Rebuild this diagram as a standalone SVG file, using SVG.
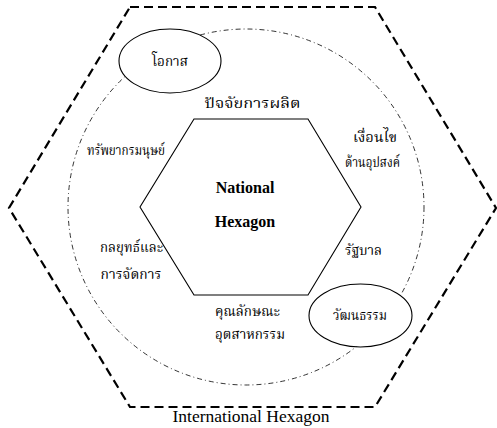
<svg xmlns="http://www.w3.org/2000/svg" width="497" height="428" viewBox="0 0 497 428">
  <style>
    .outer { fill: none; stroke: #000; stroke-width: 2.2; stroke-dasharray: 9 5; }
    .ring { fill: none; stroke: #000; stroke-width: 0.8; stroke-dasharray: 5 3 1 3; }
    .hex { fill: none; stroke: #000; stroke-width: 1.1; }
    .oval { fill: #fff; stroke: #000; stroke-width: 1.1; }
    .th { font-family: "Liberation Serif", "DejaVu Serif", "Noto Serif Thai", "Noto Sans Thai", serif; font-size: 13.5px; fill: #000; text-anchor: middle; }
    .en { font-family: "Liberation Serif", "Times New Roman", serif; fill: #000; text-anchor: middle; }
    .title { font-size: 16px; font-weight: bold; }
  </style>

  <!-- International hexagon (outer dashed boundary) -->
  <g id="international-hexagon">
    <polygon class="outer" points="130,7 375,7 496,208 375,407 130,407 9,208"/>
    <text class="en" x="251" y="422" font-size="17.5">International Hexagon</text>
  </g>

  <!-- Dash-dot ring of factors -->
  <g id="factor-ring">
    <circle class="ring" cx="246" cy="207" r="178"/>
  </g>

  <!-- National hexagon (core) -->
  <g id="national-hexagon">
    <polygon class="hex" points="194,119 308,119 361,207 308,295 194,295 140,207"/>
    <text class="en title" x="245" y="193">National</text>
    <text class="en title" x="245" y="227">Hexagon</text>
  </g>

  <!-- Factor labels around the hexagon -->
  <g id="factor-production">
    <text class="th" x="252.5" y="108" textLength="96" lengthAdjust="spacingAndGlyphs">ปัจจัยการผลิต</text>
  </g>
  <g id="factor-demand">
    <text class="th" x="375" y="142" textLength="44" lengthAdjust="spacingAndGlyphs">เงื่อนไข</text>
    <text class="th" x="372.5" y="167" textLength="55" lengthAdjust="spacingAndGlyphs">ด้านอุปสงค์</text>
  </g>
  <g id="factor-human-resources">
    <text class="th" x="126" y="155" textLength="78" lengthAdjust="spacingAndGlyphs">ทรัพยากรมนุษย์</text>
  </g>
  <g id="factor-strategy">
    <text class="th" x="131.5" y="252" textLength="63" lengthAdjust="spacingAndGlyphs">กลยุทธ์และ</text>
    <text class="th" x="131" y="279" textLength="61" lengthAdjust="spacingAndGlyphs">การจัดการ</text>
  </g>
  <g id="factor-government">
    <text class="th" x="363.5" y="255" textLength="37" lengthAdjust="spacingAndGlyphs">รัฐบาล</text>
  </g>
  <g id="factor-industry">
    <text class="th" x="247.5" y="316" textLength="65" lengthAdjust="spacingAndGlyphs">คุณลักษณะ</text>
    <text class="th" x="250" y="339" textLength="70" lengthAdjust="spacingAndGlyphs">อุตสาหกรรม</text>
  </g>

  <!-- Chance and culture ovals on the ring -->
  <g id="chance">
    <ellipse class="oval" cx="170" cy="61" rx="51" ry="32"/>
    <text class="th" x="170" y="66" textLength="36" lengthAdjust="spacingAndGlyphs">โอกาส</text>
  </g>
  <g id="culture">
    <ellipse class="oval" cx="360.5" cy="315.5" rx="51.5" ry="31.5"/>
    <text class="th" x="360" y="320" textLength="54" lengthAdjust="spacingAndGlyphs">วัฒนธรรม</text>
  </g>
</svg>
